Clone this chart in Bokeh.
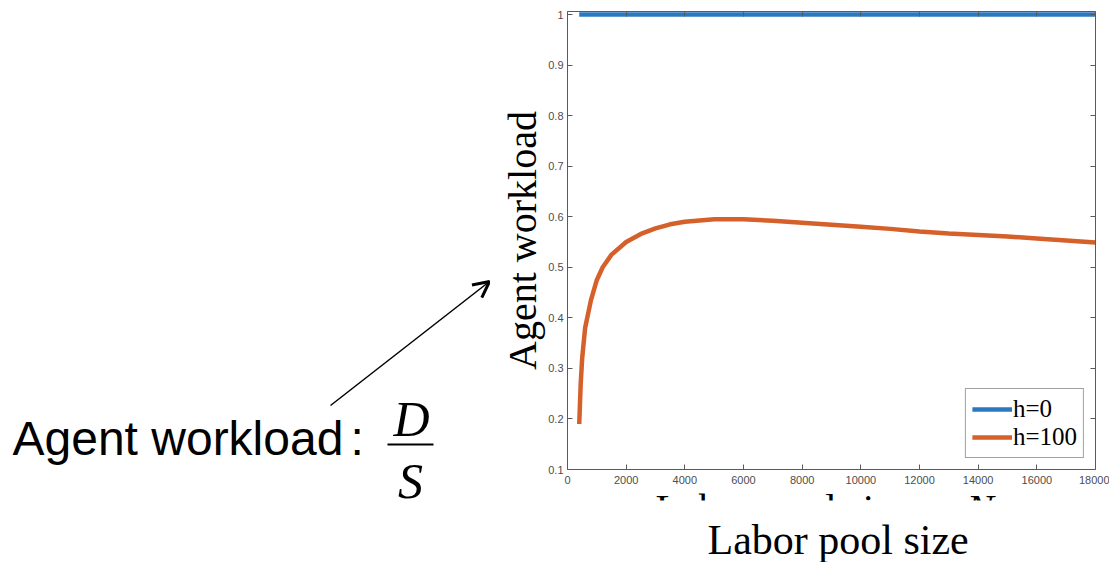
from bokeh.plotting import figure
from bokeh.models import (Range1d, LinearAxis, FixedTicker, CustomJSTickFormatter,
                          Arrow, OpenHead, Legend, LegendItem)
from bokeh.core.properties import value
from bokeh.layouts import row, column
from bokeh.embed import file_html
from bokeh.resources import INLINE

# ---------------- data ----------------
labor_pool_h0 = [400, 18000]
workload_h0 = [1.0, 1.0]

labor_pool_h100 = [400, 450, 500, 600, 800, 1000, 1200, 1500, 2000, 2500, 3000, 3500,
                   4000, 5000, 6000, 7000, 8000, 9000, 10000, 11000, 12000, 13000,
                   14000, 15000, 16000, 17000, 18000]
workload_h100 = [0.19, 0.27, 0.32, 0.38, 0.435, 0.475, 0.50, 0.525, 0.55, 0.566, 0.577, 0.585,
                 0.590, 0.595, 0.595, 0.592, 0.588, 0.584, 0.580, 0.576, 0.571, 0.567,
                 0.564, 0.561, 0.557, 0.553, 0.549]

x_ticks = [0, 2000, 4000, 6000, 8000, 10000, 12000, 14000, 16000, 18000]
y_ticks = [0.1, 0.2, 0.3, 0.4, 0.5, 0.6, 0.7, 0.8, 0.9, 1.0]
series_names = ["h=0", "h=100"]
series_colors = ["#2a79c0", "#d5602a"]

y_axis_title = "Agent workload"
x_axis_title = "Labor pool size"
x_axis_symbol = "N"
note_text = "Agent workload"
note_num, note_den = "D", "S"

AXIS_COLOR = "#5a5a5a"
TICK_LABEL_COLOR = "#4d4d4d"
SERIF = "Liberation Serif"
SANS = "Liberation Sans"


def base(y, size):
    """y (page px) of the wanted baseline -> anchor y as rendered here."""
    return y - size / 3.0


# ---------------- left panel: slide annotation ----------------
LEFT_W, TOTAL_H = 490, 562
pa = figure(width=LEFT_W, height=TOTAL_H, output_backend="svg", toolbar_location=None,
            x_range=Range1d(0, LEFT_W), y_range=Range1d(TOTAL_H, 0),
            x_axis_location=None, y_axis_location=None, min_border=0)
pa.grid.visible = False
pa.outline_line_color = None

pa.text(x=[12], y=[base(454, 48)], text=[note_text], text_font=value(SANS),
        text_font_size="48px", text_align="left", text_baseline="alphabetic",
        text_color="black")
pa.text(x=[350], y=[base(454, 48)], text=[":"], text_font=value(SANS), text_font_size="48px",
        text_align="left", text_baseline="alphabetic", text_color="black")
pa.text(x=[411], y=[base(435, 50)], text=[note_num], text_font=value(SERIF),
        text_font_size="50px", text_font_style="italic", text_align="center",
        text_baseline="alphabetic", text_color="black")
pa.text(x=[410], y=[base(497, 50)], text=[note_den], text_font=value(SERIF),
        text_font_size="50px", text_font_style="italic", text_align="center",
        text_baseline="alphabetic", text_color="black")
pa.add_layout(Arrow(end=None, x_start=387, y_start=444, x_end=433, y_end=444,
                    line_width=2, line_color="black"))
pa.add_layout(Arrow(end=OpenHead(size=16, line_width=3, line_color="black"),
                    x_start=330, y_start=405, x_end=489, y_end=281,
                    line_width=1.5, line_color="black"))

# ---------------- main chart ----------------
MAIN_W, MAIN_H = 1109 - LEFT_W, 490
BORDER_L, BORDER_R = 77, 14
FRAME_X0 = LEFT_W + BORDER_L           # 567 on the page
FRAME_X1 = 1109 - BORDER_R             # 1095 on the page
X_END = 18000
Y_START, Y_END = 0.1, 1.006

p = figure(width=MAIN_W, height=MAIN_H, output_backend="svg", toolbar_location=None,
           x_range=Range1d(0, X_END), y_range=Range1d(Y_START, Y_END),
           min_border_left=BORDER_L, min_border_right=BORDER_R,
           min_border_top=11, min_border_bottom=21)
p.grid.visible = False
p.outline_line_color = None
p.background_fill_color = "white"
p.border_fill_color = "white"

fmt = CustomJSTickFormatter(code="return String(Math.round(tick*10)/10);")

for ax in (p.xaxis[0], p.yaxis[0]):
    ax.major_tick_in = 5
    ax.major_tick_out = 0
    ax.minor_tick_line_color = None
    ax.axis_line_color = AXIS_COLOR
    ax.major_tick_line_color = AXIS_COLOR
    ax.major_label_text_font = SANS
    ax.major_label_text_font_size = "11px"
    ax.major_label_text_color = TICK_LABEL_COLOR

p.xaxis[0].major_label_standoff = 6
p.yaxis[0].major_label_standoff = 4
p.xaxis[0].ticker = FixedTicker(ticks=x_ticks)
p.yaxis[0].ticker = FixedTicker(ticks=y_ticks)
p.yaxis[0].formatter = fmt
p.yaxis[0].axis_label = y_axis_title
p.yaxis[0].axis_label_text_font = SERIF
p.yaxis[0].axis_label_text_font_size = "40px"
p.yaxis[0].axis_label_text_font_style = "normal"
p.yaxis[0].axis_label_text_color = "black"
p.yaxis[0].axis_label_standoff = 0

for loc, tk in (("right", y_ticks), ("above", x_ticks)):
    a = LinearAxis(ticker=FixedTicker(ticks=tk))
    a.major_tick_in = 5
    a.major_tick_out = 0
    a.minor_tick_line_color = None
    a.axis_line_color = AXIS_COLOR
    a.major_tick_line_color = AXIS_COLOR
    a.major_label_text_font_size = "0px"
    a.major_label_standoff = 0
    p.add_layout(a, loc)

r0 = p.line(labor_pool_h0, workload_h0, line_width=4.5, color=series_colors[0])
r1 = p.line(labor_pool_h100, workload_h100, line_width=4.5, color=series_colors[1])

legend = Legend(items=[LegendItem(label=series_names[0], renderers=[r0]),
                       LegendItem(label=series_names[1], renderers=[r1])],
                location="bottom_right")
legend.label_text_font = SERIF
legend.label_text_font_size = "25px"
legend.label_text_color = "black"
legend.glyph_width = 40
legend.glyph_height = 24
legend.label_height = 24
legend.label_standoff = 1
legend.padding = 6
legend.spacing = 0
legend.margin = 11
legend.border_line_color = "#444444"
legend.border_line_width = 1
legend.background_fill_alpha = 1.0
p.add_layout(legend)

# ---------------- strip below the chart: x titles ----------------
# its frame lines up with the chart's frame, so page px are used as data units
pb = figure(width=MAIN_W, height=TOTAL_H - MAIN_H, output_backend="svg", toolbar_location=None,
            x_range=Range1d(FRAME_X0, FRAME_X1), y_range=Range1d(TOTAL_H, MAIN_H),
            x_axis_location=None, y_axis_location=None,
            min_border_left=BORDER_L, min_border_right=BORDER_R,
            min_border_top=0, min_border_bottom=0)
pb.grid.visible = False
pb.outline_line_color = None

# original (cut off) MATLAB x label: only its top edge peeks out
pb.text(x=[655], y=[base(521, 41)], text=[x_axis_title], text_font=value(SERIF),
        text_font_size="41px", text_align="left", text_baseline="alphabetic",
        text_color="black")
pb.text(x=[966], y=[base(521, 41)], text=[x_axis_symbol], text_font=value(SERIF),
        text_font_size="41px", text_font_style="italic", text_align="left",
        text_baseline="alphabetic", text_color="black")
pb.quad(left=[FRAME_X0], right=[FRAME_X1], top=[500], bottom=[TOTAL_H],
        fill_color="white", line_color=None)
# slide's x label
pb.text(x=[707], y=[base(553, 42)], text=[x_axis_title], text_font=value(SERIF),
        text_font_size="42px", text_align="left", text_baseline="alphabetic",
        text_color="black")

layout = row(pa, column(p, pb, spacing=0), spacing=0)
open("out.html", "w").write(file_html(layout, INLINE))
